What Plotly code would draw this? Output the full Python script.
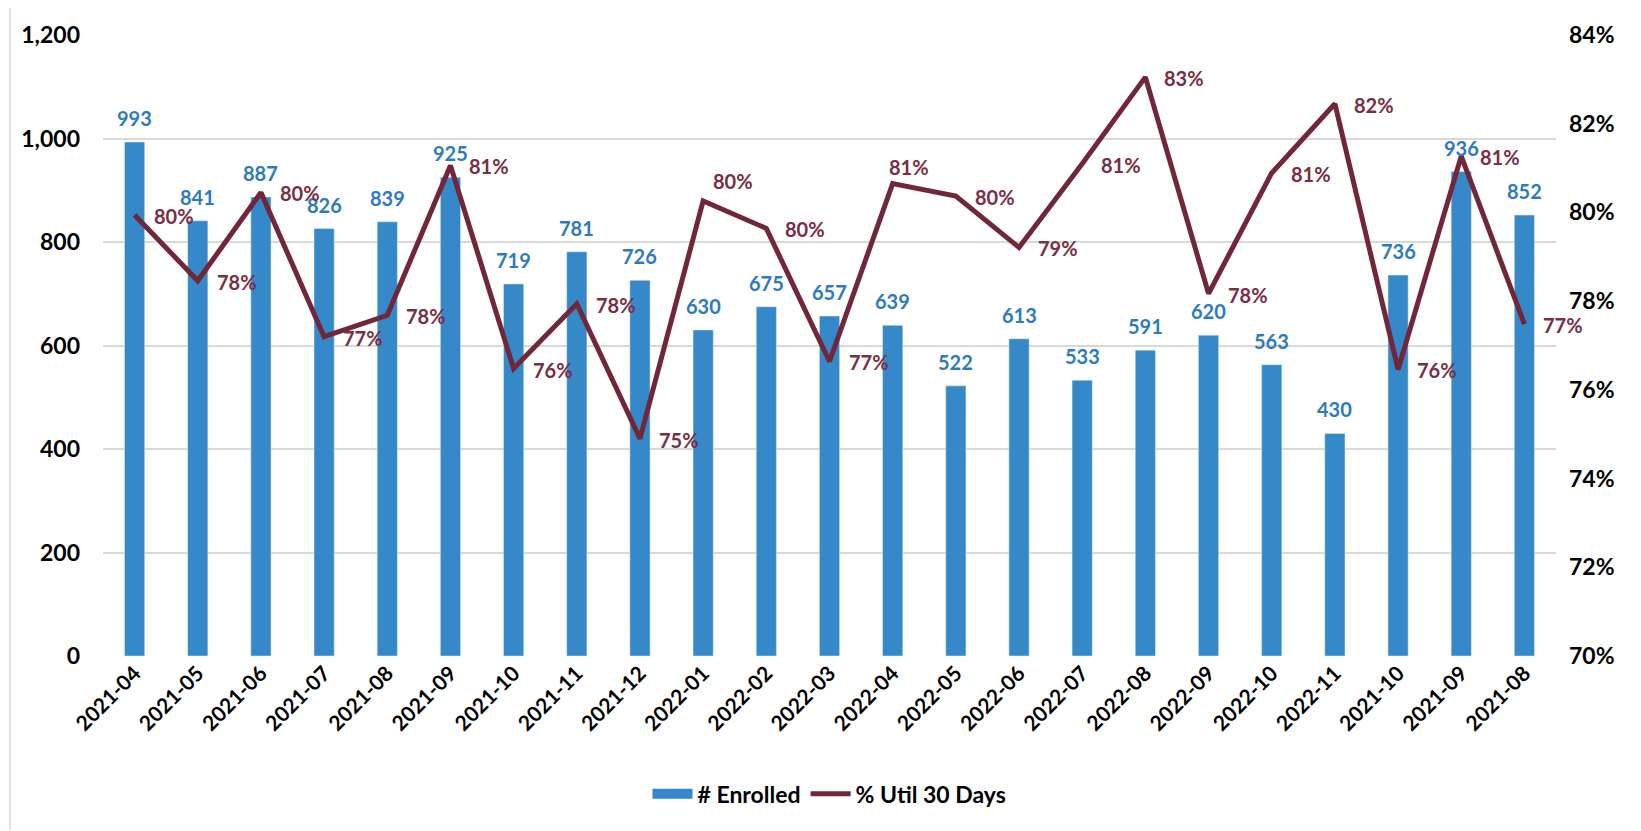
import plotly.graph_objects as go

months = ["2021-04", "2021-05", "2021-06", "2021-07", "2021-08", "2021-09", "2021-10",
          "2021-11", "2021-12", "2022-01", "2022-02", "2022-03", "2022-04", "2022-05",
          "2022-06", "2022-07", "2022-08", "2022-09", "2022-10", "2022-11", "2021-10",
          "2021-09", "2021-08"]
enrolled = [993, 841, 887, 826, 839, 925, 719, 781, 726, 630, 675, 657, 639, 522,
            613, 533, 591, 620, 563, 430, 736, 936, 852]
util_30 = [0.7994, 0.7846, 0.8045, 0.7720, 0.7768, 0.8106, 0.7648, 0.7794, 0.7490,
           0.8026, 0.7964, 0.7664, 0.8065, 0.8037, 0.7921, 0.8110, 0.8305, 0.7817,
           0.8089, 0.8245, 0.7646, 0.8127, 0.7748]
left_ticks = [0, 200, 400, 600, 800, 1000, 1200]
right_ticks = [0.70, 0.72, 0.74, 0.76, 0.78, 0.80, 0.82, 0.84]

BAR_COLOR = "#3689C9"
BAR_TEXT = "#2C7BC0"
LINE_COLOR = "#722639"
LINE_TEXT = "#7A2D43"
FONT = "Lato"

xs = list(range(len(months)))

fig = go.Figure()
fig.add_trace(go.Bar(x=xs, y=enrolled, name="# Enrolled", marker_color=BAR_COLOR,
                     width=0.32, yaxis="y", showlegend=False))
# legend entry mimicking the wide rectangle swatch
fig.add_trace(go.Scatter(x=[None], y=[None], name="# Enrolled", mode="lines",
                         line=dict(color=BAR_COLOR, width=17), yaxis="y"))
fig.add_trace(go.Scatter(x=xs, y=util_30, name="% Util 30 Days", mode="lines",
                         line=dict(color=LINE_COLOR, width=5), yaxis="y2"))

ann = []
for i, v in enumerate(enrolled):
    ann.append(dict(x=xs[i], y=v, xref="x", yref="y", text=f"{v:,}", showarrow=False,
                    yanchor="bottom", xanchor="center", yshift=10,
                    font=dict(family=FONT, size=20, color=BAR_TEXT, weight="bold")))

# label placement overrides (style): index -> (xshift, yshift)
special = {9: (8, 20), 12: (-6, 17)}
for i, v in enumerate(util_30):
    xsh, ysh = special.get(i, (17, -1))
    ann.append(dict(x=xs[i], y=v, xref="x", yref="y2", text=f"{round(v*100):.0f}%",
                    showarrow=False, yanchor="middle", xanchor="left",
                    xshift=xsh, yshift=ysh,
                    font=dict(family=FONT, size=20, color=LINE_TEXT, weight="bold")))

fig.update_layout(
    width=1641, height=831,
    margin=dict(l=95, r=93, t=22, b=183),
    paper_bgcolor="white", plot_bgcolor="white",
    font=dict(family=FONT, color="#000000"),
    annotations=ann,
    showlegend=True,
    legend=dict(orientation="h", x=0.5, xanchor="center", y=-0.222, yanchor="middle",
                font=dict(family=FONT, size=23, color="#000000", weight="bold"),
                itemwidth=40, tracegroupgap=0),
    xaxis=dict(range=[-0.5, len(months) - 0.5], tickmode="array", tickvals=xs,
               ticktext=months, tickangle=-45, showgrid=False, zeroline=False,
               showline=False, ticks="",
               tickfont=dict(family=FONT, size=21, color="#000000", weight="bold")),
    yaxis=dict(range=[0, 1200], tickmode="array", tickvals=left_ticks, tickformat=",",
               showgrid=True, gridcolor="#D9D9D9", gridwidth=2, zeroline=False,
               showline=False, ticks="", ticklabelstandoff=22,
               tickfont=dict(family=FONT, size=23, color="#000000", weight="bold")),
    yaxis2=dict(range=[0.70, 0.84], overlaying="y", side="right", tickmode="array",
                tickvals=right_ticks, tickformat=".0%", showgrid=False, zeroline=False,
                showline=False, ticks="", ticklabelstandoff=12,
                tickfont=dict(family=FONT, size=23, color="#000000", weight="bold")),
    shapes=[dict(type="line", xref="paper", yref="paper", x0=-0.064, x1=-0.064,
                 y0=-0.28, y1=1.05, line=dict(color="#D9D9D9", width=1.5))],
)

fig.write_html("out.html")
